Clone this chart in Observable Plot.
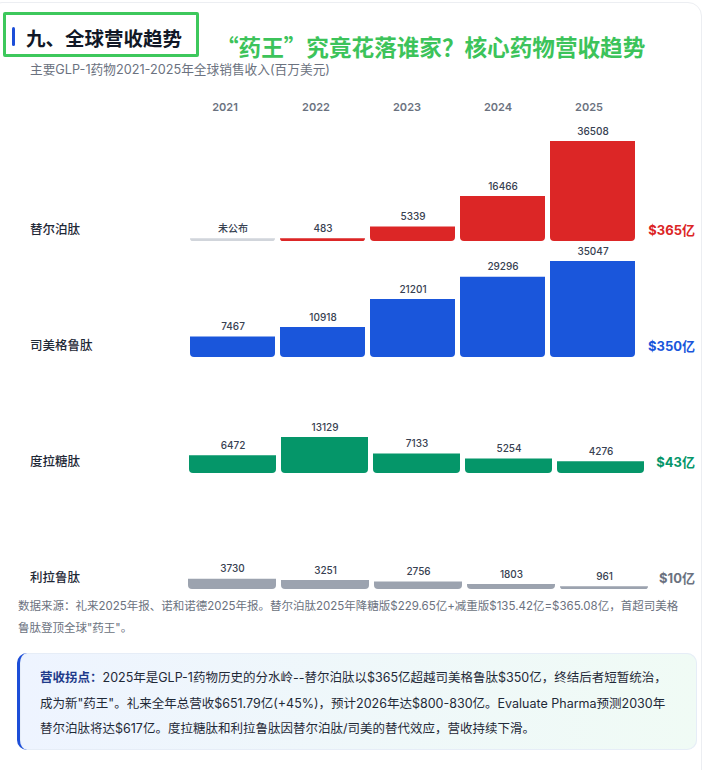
<!DOCTYPE html>
<html><head><meta charset="utf-8">
<script src="https://cdn.jsdelivr.net/npm/d3@7"></script>
<script src="https://cdn.jsdelivr.net/npm/@observablehq/plot@0.6"></script>
<style>
html,body{margin:0;padding:0;background:#fff;}
body{width:711px;height:770px;overflow:hidden;position:relative;font-family:Inter,"Noto Sans CJK SC",sans-serif;}
.card{position:absolute;left:-12px;top:2px;width:712px;height:800px;border:1px solid #eceef2;border-radius:14px;}
.tbox{position:absolute;left:3px;top:12px;width:190px;height:39px;border:3px solid #3dc85c;border-radius:2px;}
.tbar{position:absolute;left:12px;top:27px;width:3px;height:19px;background:#1d4ed8;border-radius:2px;}
.title{position:absolute;left:26px;top:25px;font-size:19.5px;line-height:26px;font-weight:700;color:#111827;white-space:nowrap;font-family:"Noto Sans CJK SC",sans-serif;}
.head{position:absolute;left:216px;top:32px;font-size:22.6px;line-height:30px;font-weight:700;color:#3cc35a;white-space:nowrap;font-family:"Noto Sans CJK SC",sans-serif;}
.sub{position:absolute;left:30px;top:61px;font-size:12.7px;line-height:18px;color:#6b7280;white-space:nowrap;}
.row{position:absolute;left:0;width:711px;height:116px;}
.rl{position:absolute;left:30px;top:95px;line-height:20px;font-size:12.5px;font-weight:500;color:#1f2937;white-space:nowrap;}
.rr{position:absolute;right:16px;top:95px;line-height:20px;font-size:13px;font-weight:700;white-space:nowrap;}
.plotwrap{position:absolute;left:188px;top:0;}
.hdr{position:absolute;left:178px;top:97px;}
.foot{position:absolute;left:18px;top:595px;width:668px;font-size:11.5px;line-height:22px;color:#6b7280;}
.call{position:absolute;left:17px;top:653px;height:97px;box-sizing:border-box;width:680px;border-left:3px solid #1d4ed8;border-radius:10px;background:linear-gradient(90deg,#eef4ff,#f0fbf5);padding:12px 20px 0 20px;font-size:12.5px;line-height:25.5px;color:#1f2937;box-shadow:0 0 0 1px #e6edf7 inset;}
.call b{color:#1e3a8a;font-weight:700;}
svg{overflow:visible;}
</style></head><body>
<div class="card"></div>
<div class="tbox"></div>
<div class="tbar"></div>
<div class="title">九、全球营收趋势</div>
<div class="head">“药王”究竟花落谁家？核心药物营收趋势</div>
<div class="sub">主要GLP-1药物2021-2025年全球销售收入(百万美元)</div>
<div id="hdr" class="hdr"></div>
<div id="rows"></div>
<div class="foot">数据来源：礼来2025年报、诺和诺德2025年报。替尔泊肽2025年降糖版$229.65亿+减重版$135.42亿=$365.08亿，首超司美格鲁肽登顶全球"药王"。</div>
<div class="call"><b>营收拐点：</b>2025年是GLP-1药物历史的分水岭--替尔泊肽以$365亿超越司美格鲁肽$350亿，终结后者短暂统治，成为新"药王"。礼来全年总营收$651.79亿(+45%)，预计2026年达$800-830亿。Evaluate Pharma预测2030年替尔泊肽将达$617亿。度拉糖肽和利拉鲁肽因替尔泊肽/司美的替代效应，营收持续下滑。</div>
<script>
const years = ["2021","2022","2023","2024","2025"];
const drugs = ["替尔泊肽","司美格鲁肽","度拉糖肽","利拉鲁肽"];
const tirzepatide = [null, 483, 5339, 16466, 36508];
const semaglutide = [7467, 10918, 21201, 29296, 35047];
const dulaglutide = [6472, 13129, 7133, 5254, 4276];
const liraglutide = [3730, 3251, 2756, 1803, 961];
const totals = ["$365亿","$350亿","$43亿","$10亿"];
const notPublished = "未公布";

const series = [tirzepatide, semaglutide, dulaglutide, liraglutide];
const barColors = ["#dc2626","#1a56db","#059669","#9ca3af"];
const totalColors = ["#dc2626","#1a56db","#059669","#6b7280"];
const missingColor = "#d1d5db";
const font = "Inter, 'Noto Sans CJK SC', sans-serif";

const yMax = d3.max(series.flat());
const minShown = yMax * 0.028;

// header years
document.getElementById("hdr").append(Plot.plot({
  width: 456, height: 20, margin: 0,
  x: {type: "band", domain: years, padding: 0, axis: null},
  style: {fontFamily: font},
  marks: [Plot.text(years, {x: d => d, text: d => d, frameAnchor: "middle", fontSize: 11, fontWeight: 600, fill: "#6b7280"})]
}));

const rowsEl = document.getElementById("rows");
drugs.forEach((name, i) => {
  const row = document.createElement("div");
  row.className = "row";
  row.style.top = (125 + 116 * i) + "px";
  rowsEl.append(row);
  const rl = document.createElement("div"); rl.className = "rl"; rl.textContent = name; row.append(rl);
  const rr = document.createElement("div"); rr.className = "rr"; rr.textContent = totals[i]; rr.style.color = totalColors[i]; row.append(rr);
  const rrw = rr.getBoundingClientRect().width;
  const width = Math.round(695 - rrw - 11 - 188);
  const data = years.map((y, k) => ({year: y, v: series[i][k]}));
  const wrap = document.createElement("div"); wrap.className = "plotwrap"; row.append(wrap);
  wrap.append(Plot.plot({
    width, height: 116, marginTop: 16, marginBottom: 0, marginLeft: 0, marginRight: 0,
    x: {domain: years, paddingInner: 0.055, paddingOuter: 0, axis: null},
    y: {domain: [0, yMax], axis: null},
    style: {fontFamily: font, overflow: "visible"},
    marks: [
      Plot.barY(data, {x: "year", y: d => Math.max(d.v ?? 0, minShown), fill: d => d.v == null ? missingColor : barColors[i], ry2: 4}),
      Plot.text(data, {x: "year", y: d => Math.max(d.v ?? 0, minShown), text: d => d.v == null ? notPublished : String(d.v), dy: -10, fontSize: 10, fontWeight: 500, fill: "#374151"})
    ]
  }));
});
</script>
</body></html>
